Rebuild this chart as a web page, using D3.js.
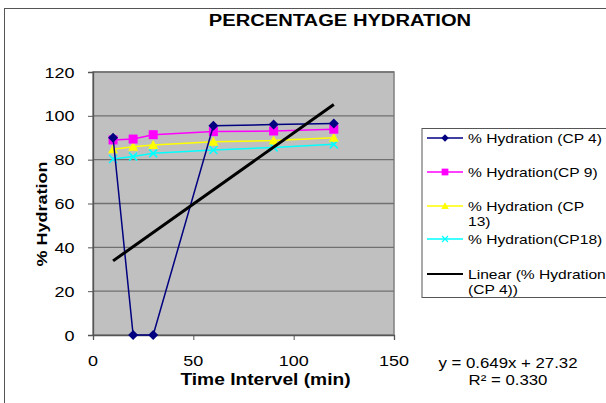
<!DOCTYPE html>
<html><head><meta charset="utf-8">
<script src="https://cdn.jsdelivr.net/npm/d3@7"></script>
<style>body{margin:0;background:#fff}svg{display:block;font-family:"Liberation Sans",Arial,sans-serif}</style>
</head><body><svg id="c" width="606" height="403"></svg>
<script>
const times = [10, 20, 30, 60, 90, 120];
const cp4 = [90, 0, 0, 95.5, 96, 96.5];
const cp9 = [89, 89.4, 91.4, 92.8, 93.1, 93.9];
const cp13 = [84.7, 85.9, 86.7, 88.2, 88.7, 90.0];
const cp18 = [80.3, 81.4, 82.9, 84.4, 85.6, 87.0];
const seriesNames = ["% Hydration (CP 4)", "% Hydration(CP 9)", "% Hydration (CP 13)", "% Hydration(CP18)"];
const trendSlope = 0.649, trendIntercept = 27.32, trendR2 = "0.330";
const trendName = "Linear (% Hydration (CP 4))";
const xTicks = [0, 50, 100, 150];
const yTicks = [0, 20, 40, 60, 80, 100, 120];

const svg = d3.select("#c");
const L = 93, R = 394, T = 72, B = 335;
const SX = 1.2; // horizontal text stretch of the original picture
const x = d3.scaleLinear().domain([0, 150]).range([L, R]);
const y = d3.scaleLinear().domain([0, 120]).range([B, T]);

function txt(parent, px, py, str, size, opts = {}) {
  const g = parent.append("g").attr("transform",
    `translate(${px},${py}) rotate(${opts.rot || 0}) scale(${opts.sx || SX},1)`);
  return g.append("text").attr("text-anchor", opts.anchor || "middle")
    .attr("font-size", size).attr("font-weight", opts.bold ? "bold" : "normal")
    .attr("fill", "#000").text(str);
}

// outer chart border
svg.append("rect").attr("x", 4.5).attr("y", 8.5).attr("width", 640).attr("height", 440)
  .attr("fill", "#fff").attr("stroke", "#555").attr("stroke-width", 1);

// plot area
svg.append("rect").attr("x", L).attr("y", T).attr("width", R - L).attr("height", B - T)
  .attr("fill", "#c0c0c0").attr("stroke", "#808080").attr("stroke-width", 1.5);

// gridlines
svg.append("g").selectAll("line").data(yTicks.filter(d => d > 0)).join("line")
  .attr("x1", L).attr("x2", R).attr("y1", d => y(d)).attr("y2", d => y(d))
  .attr("stroke", "#707070").attr("stroke-width", 1.3);

// axes (lines & ticks via d3 axes, labels drawn stretched)
const ya = svg.append("g").attr("transform", `translate(${L},0)`)
  .call(d3.axisLeft(y).tickValues(yTicks).tickSize(5).tickFormat(""));
const xa = svg.append("g").attr("transform", `translate(0,${B})`)
  .call(d3.axisBottom(x).tickValues(xTicks).tickSize(5).tickFormat(""));
[ya, xa].forEach(a => {
  a.select(".domain").attr("stroke", "#555").attr("stroke-width", 1.3);
  a.selectAll(".tick line").attr("stroke", "#555");
});
yTicks.forEach(v => txt(svg, 74.5, y(v) + 5.5, d3.format("d")(v), 15, {anchor: "end"}));
xTicks.forEach(v => txt(svg, x(v), 366, d3.format("d")(v), 15));

// titles
txt(svg, 340, 26, "PERCENTAGE HYDRATION", 16.8, {bold: true});
txt(svg, 265.5, 385, "Time Intervel (min)", 16, {bold: true});
txt(svg, 47, 214, "% Hydration", 15, {bold: true, rot: -90});

// trendline equation
txt(svg, 508, 368, `y = ${trendSlope}x + ${trendIntercept}`, 14);
txt(svg, 508, 385, `R² = ${trendR2}`, 14);

const series = [
  {vals: cp4, color: "#000080", marker: "diamond"},
  {vals: cp9, color: "#ff00ff", marker: "square"},
  {vals: cp13, color: "#ffff00", marker: "triangle"},
  {vals: cp18, color: "#00ffff", marker: "x"}
];
function marker(g, type, color) {
  if (type === "diamond") g.append("path").attr("d", "M0,-5L5,0L0,5L-5,0Z").attr("fill", color);
  else if (type === "square") g.append("rect").attr("x", -4.5).attr("y", -4.5).attr("width", 9).attr("height", 9).attr("fill", color);
  else if (type === "triangle") g.append("path").attr("d", "M0,-5L5,4L-5,4Z").attr("fill", color);
  else g.append("path").attr("d", "M-4,-4L4,4M-4,4L4,-4").attr("stroke", color).attr("stroke-width", 1.6).attr("fill", "none");
}
const line = d3.line().x((d, i) => x(times[i])).y(d => y(d));
series.slice().reverse().forEach(s => {
  svg.append("path").datum(s.vals).attr("d", line).attr("fill", "none")
    .attr("stroke", s.color).attr("stroke-width", 1.5);
  s.vals.forEach((v, i) => {
    const g = svg.append("g").attr("transform", `translate(${x(times[i])},${y(v)})`);
    marker(g, s.marker, s.color);
  });
});

// trendline
const tx = d3.extent(times);
svg.append("line").attr("x1", x(tx[0])).attr("y1", y(trendSlope * tx[0] + trendIntercept))
  .attr("x2", x(tx[1])).attr("y2", y(trendSlope * tx[1] + trendIntercept))
  .attr("stroke", "#000").attr("stroke-width", 3);

// legend
const lg = svg.append("g");
lg.append("rect").attr("x", 422).attr("y", 128.5).attr("width", 200).attr("height", 169)
  .attr("fill", "#fff").attr("stroke", "#555").attr("stroke-width", 1);
const legendItems = [
  {lines: ["% Hydration (CP 4)"], y: 138, s: series[0]},
  {lines: ["% Hydration(CP 9)"], y: 172, s: series[1]},
  {lines: ["% Hydration (CP", "13)"], y: 206, s: series[2]},
  {lines: ["% Hydration(CP18)"], y: 239, s: series[3]},
  {lines: ["Linear (% Hydration", "(CP 4))"], y: 274, s: null}
];
legendItems.forEach(it => {
  const color = it.s ? it.s.color : "#000";
  lg.append("line").attr("x1", 427).attr("x2", 463).attr("y1", it.y).attr("y2", it.y)
    .attr("stroke", color).attr("stroke-width", it.s ? 1.5 : 2);
  if (it.s) {
    const g = lg.append("g").attr("transform", `translate(445,${it.y}) scale(0.75)`);
    marker(g, it.s.marker, color);
  }
  it.lines.forEach((l, k) => txt(lg, 468, it.y + 5 + k * 14.5, l, 13, {anchor: "start"}));
});
</script></body></html>
